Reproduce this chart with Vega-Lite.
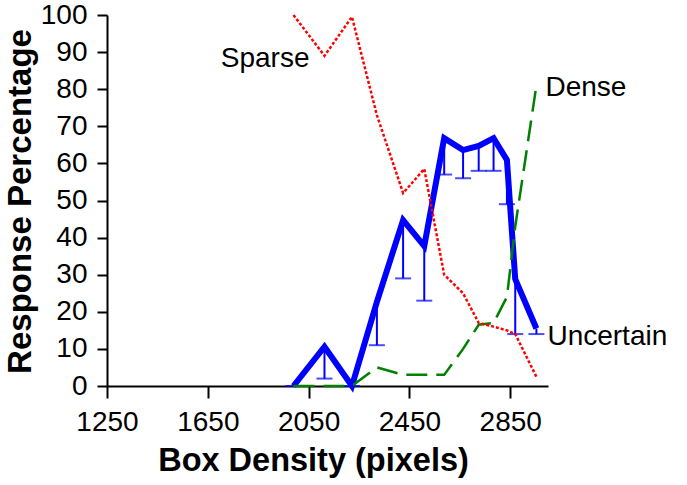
{
  "$schema": "https://vega.github.io/schema/vega-lite/v6.json",
  "width": 441,
  "height": 371,
  "autosize": {"type": "none"},
  "padding": {"left": 107, "top": 15, "right": 139, "bottom": 99},
  "background": "white",
  "config": {
    "view": {"stroke": null},
    "font": "Liberation Sans",
    "axis": {
      "grid": false,
      "domainColor": "black",
      "domainWidth": 2,
      "tickColor": "black",
      "tickWidth": 2,
      "labelColor": "black",
      "labelFont": "Liberation Sans",
      "labelFontSize": 28,
      "titleColor": "black",
      "titleFont": "Liberation Sans",
      "titleFontWeight": "bold"
    }
  },
  "datasets": {
    "responses": [
      {"density": 1990, "series": "Sparse", "pct": 100},
      {"density": 2113, "series": "Sparse", "pct": 89},
      {"density": 2222, "series": "Sparse", "pct": 99.5},
      {"density": 2321, "series": "Sparse", "pct": 73},
      {"density": 2425, "series": "Sparse", "pct": 52},
      {"density": 2509, "series": "Sparse", "pct": 58.5},
      {"density": 2588, "series": "Sparse", "pct": 30},
      {"density": 2663, "series": "Sparse", "pct": 25},
      {"density": 2725, "series": "Sparse", "pct": 17},
      {"density": 2784, "series": "Sparse", "pct": 16},
      {"density": 2837, "series": "Sparse", "pct": 15},
      {"density": 2870, "series": "Sparse", "pct": 14},
      {"density": 2954, "series": "Sparse", "pct": 2.5},
      {"density": 1990, "series": "Dense", "pct": 0},
      {"density": 2113, "series": "Dense", "pct": 0},
      {"density": 2222, "series": "Dense", "pct": 0},
      {"density": 2321, "series": "Dense", "pct": 5},
      {"density": 2425, "series": "Dense", "pct": 3},
      {"density": 2509, "series": "Dense", "pct": 3},
      {"density": 2588, "series": "Dense", "pct": 3},
      {"density": 2663, "series": "Dense", "pct": 10},
      {"density": 2725, "series": "Dense", "pct": 16.5},
      {"density": 2784, "series": "Dense", "pct": 17},
      {"density": 2837, "series": "Dense", "pct": 24},
      {"density": 2870, "series": "Dense", "pct": 43},
      {"density": 2954, "series": "Dense", "pct": 81},
      {"density": 1990, "series": "Uncertain", "pct": 0, "lower": 0},
      {"density": 2113, "series": "Uncertain", "pct": 10.6, "lower": 2},
      {"density": 2222, "series": "Uncertain", "pct": 0, "lower": 0},
      {"density": 2321, "series": "Uncertain", "pct": 22.7, "lower": 11},
      {"density": 2425, "series": "Uncertain", "pct": 44.7, "lower": 29},
      {"density": 2509, "series": "Uncertain", "pct": 37.7, "lower": 23},
      {"density": 2588, "series": "Uncertain", "pct": 66.8, "lower": 57},
      {"density": 2663, "series": "Uncertain", "pct": 63.6, "lower": 56},
      {"density": 2725, "series": "Uncertain", "pct": 64.7, "lower": 58},
      {"density": 2784, "series": "Uncertain", "pct": 66.8, "lower": 58},
      {"density": 2837, "series": "Uncertain", "pct": 60.9, "lower": 49},
      {"density": 2870, "series": "Uncertain", "pct": 28.8, "lower": 14},
      {"density": 2954, "series": "Uncertain", "pct": 15.5, "lower": 14}
    ]
  },
  "data": {"name": "responses"},
  "encoding": {
    "x": {
      "field": "density",
      "type": "quantitative",
      "scale": {"domain": [1250, 3000], "nice": false, "zero": false},
      "axis": {
        "title": "Box Density (pixels)",
        "format": "d",
        "values": [1250, 1650, 2050, 2450, 2850],
        "tickSize": 12,
        "labelPadding": 10,
        "labelFlush": false,
        "titleFontSize": 32.5,
        "titleAlign": "center",
        "titleBaseline": "alphabetic",
        "titleX": 206,
        "titleY": 84
      }
    },
    "y": {
      "field": "pct",
      "type": "quantitative",
      "scale": {"domain": [0, 100], "nice": false},
      "axis": {
        "title": "Response Percentage",
        "format": "d",
        "values": [0, 10, 20, 30, 40, 50, 60, 70, 80, 90, 100],
        "tickSize": 10,
        "labelPadding": 10,
        "labelFlush": false,
        "titleFontSize": 33,
        "titleBaseline": "alphabetic",
        "titleX": -77,
        "titleY": 186
      }
    }
  },
  "layer": [
    {
      "transform": [{"filter": "datum.series === 'Uncertain'"}],
      "mark": {"type": "line", "color": "#0000ff", "strokeWidth": 6, "strokeJoin": "miter"},
      "encoding": {}
    },
    {
      "transform": [{"filter": "datum.series === 'Uncertain'"}],
      "mark": {"type": "rule", "color": "#0000ff", "strokeWidth": 2},
      "encoding": {"y": {"field": "lower", "type": "quantitative"}, "y2": {"field": "pct"}}
    },
    {
      "transform": [{"filter": "datum.series === 'Uncertain'"}],
      "mark": {"type": "tick", "orient": "horizontal", "color": "#0000ff", "size": 16, "thickness": 2},
      "encoding": {"y": {"field": "lower", "type": "quantitative"}}
    },
    {
      "transform": [{"filter": "datum.series === 'Dense'"}],
      "mark": {"type": "line", "color": "#008000", "strokeWidth": 2.5, "strokeDash": [21, 9]},
      "encoding": {}
    },
    {
      "transform": [{"filter": "datum.series === 'Sparse'"}],
      "mark": {"type": "line", "color": "#ff0000", "strokeWidth": 2.5, "strokeDash": [3, 2]},
      "encoding": {}
    },
    {
      "transform": [{"filter": "datum.series === 'Sparse' && datum.density === 2113"}],
      "mark": {"type": "text", "align": "right", "baseline": "alphabetic", "dx": -15, "dy": 11, "fontSize": 28, "color": "black"},
      "encoding": {"text": {"field": "series"}}
    },
    {
      "transform": [{"filter": "datum.series === 'Dense' && datum.density === 2954"}],
      "mark": {"type": "text", "align": "left", "baseline": "alphabetic", "dx": 9, "dy": 11, "fontSize": 28, "color": "black"},
      "encoding": {"text": {"field": "series"}}
    },
    {
      "transform": [{"filter": "datum.series === 'Uncertain' && datum.density === 2954"}],
      "mark": {"type": "text", "align": "left", "baseline": "alphabetic", "dx": 11, "dy": 16.5, "fontSize": 28, "color": "black"},
      "encoding": {"text": {"field": "series"}}
    }
  ]
}
